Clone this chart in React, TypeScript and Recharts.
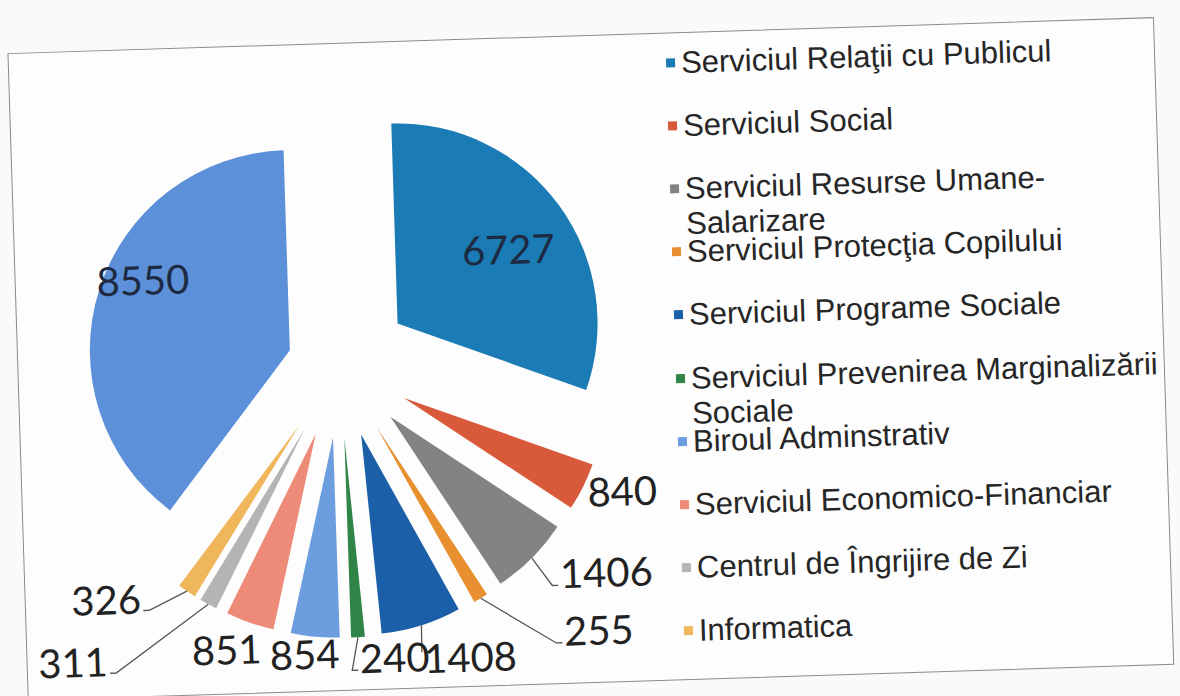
import React from 'react';
import { PieChart, Pie, Cell, Sector, Legend, Tooltip } from 'recharts';

const categories = [
  'Serviciul Relaţii cu Publicul',
  'Serviciul Social',
  'Serviciul Resurse Umane-Salarizare',
  'Serviciul Protecţia Copilului',
  'Serviciul Programe Sociale',
  'Serviciul Prevenirea Marginalizării Sociale',
  'Biroul Adminstrativ',
  'Serviciul Economico-Financiar',
  'Centrul de Îngrijire de Zi',
  'Informatica',
  '', // slice with no legend entry in the source
];

const values = [6727, 840, 1406, 255, 1408, 240, 854, 851, 311, 326, 8550];

const sliceColors = [
  '#1b7bb4',
  '#d85a3b',
  '#838383',
  '#e8902f',
  '#1b5fa8',
  '#2f8447',
  '#6b9ddf',
  '#ee8a78',
  '#b4b4b4',
  '#f0b65c',
  '#5c90d8',
];

// styling: how far each slice is pulled out, label placement, leader lines
const explode = [72, 72, 72, 72, 72, 72, 72, 72, 72, 72, 52];
const labelShift: [number, number][] = [
  [-52, 42], [39, 5], [74, 16], [117, 35], [48, 33], [36, 21],
  [-11, 17], [-24, 26], [-137, 54], [-81, 6], [44, -9],
];
const leaderSide = ['', '', 'left', 'left', 'leftTop', 'left', '', '', 'right', 'right', ''];
const insideLabel = [true, false, false, false, false, false, false, false, false, false, true];

const data = categories.map((name, i) => ({ id: i, name, value: values[i] }));

const W = 1180;
const H = 696;
const RAD = Math.PI / 180;
const DIGIT_W = 23.2;
const LEGEND_W = 510;
const LEGEND_FONT = '31px "Liberation Sans", Arial, sans-serif';

function unit(midAngle: number) {
  return [Math.cos(-midAngle * RAD), Math.sin(-midAngle * RAD)];
}

function ExplodedSector(props: any) {
  const { cx, cy, midAngle, innerRadius, outerRadius, startAngle, endAngle, fill } = props;
  const id = props.payload?.id ?? props.id ?? 0;
  const d = explode[id];
  const [ux, uy] = unit(midAngle);
  return (
    <Sector
      cx={cx + d * ux}
      cy={cy + d * uy}
      innerRadius={innerRadius}
      outerRadius={outerRadius}
      startAngle={startAngle}
      endAngle={endAngle}
      fill={fill}
      stroke="none"
    />
  );
}

function renderLabel(props: any) {
  const { cx, cy, midAngle, outerRadius, value, index } = props;
  const i = props.payload?.id ?? index;
  const [ux, uy] = unit(midAngle);
  const r = explode[i] + outerRadius;
  const ax = cx + r * ux;
  const ay = cy + r * uy;
  const x = ax + labelShift[i][0];
  const y = ay + labelShift[i][1];
  const half = (String(value).length * DIGIT_W) / 2;
  const side = leaderSide[i];
  let path = '';
  if (side === 'left') {
    const ex = x - half - 2;
    const ey = y + 12;
    path = `M${ax},${ay}L${ex - 6},${ey}L${ex},${ey}`;
  } else if (side === 'right') {
    const ex = x + half + 2;
    const ey = y + 12;
    path = `M${ax},${ay}L${ex + 6},${ey}L${ex},${ey}`;
  } else if (side === 'leftTop') {
    path = `M${ax},${ay}L${x - half - 2},${y - 6}`;
  }
  return (
    <g key={`lbl-${i}`}>
      {path && <path d={path} stroke="#555" strokeWidth={1.3} fill="none" />}
      <text
        x={x}
        y={y}
        textAnchor="middle"
        dominantBaseline="central"
        fontFamily="Lato, 'Open Sans', sans-serif"
        fontSize={40}
        fill={insideLabel[i] ? '#1d2a42' : '#222'}
      >
        {value}
      </text>
    </g>
  );
}

let ctx: CanvasRenderingContext2D | null = null;
function textWidth(s: string) {
  if (!ctx) ctx = document.createElement('canvas').getContext('2d');
  if (!ctx) return s.length * 15;
  ctx.font = LEGEND_FONT;
  return ctx.measureText(s).width;
}

function wrap(text: string, maxW: number) {
  const tokens = text.match(/[^\s-]+-?\s*/g) || [text];
  const lines: string[] = [];
  let cur = '';
  tokens.forEach((t) => {
    if (cur && textWidth((cur + t).trimEnd()) > maxW) {
      lines.push(cur.trimEnd());
      cur = t;
    } else {
      cur += t;
    }
  });
  if (cur) lines.push(cur.trimEnd());
  return lines;
}

function renderLegend(props: any) {
  // keep the data order, skip the slice that has no legend entry
  const items = (props.payload || [])
    .filter((p: any) => p.value)
    .sort((a: any, b: any) => categories.indexOf(a.value) - categories.indexOf(b.value));
  return (
    <div
      style={{
        position: 'relative',
        width: LEGEND_W,
        height: H,
        font: LEGEND_FONT,
        color: '#262626',
      }}
    >
      {items.map((p: any, k: number) => {
        const lines = wrap(String(p.value), 482);
        return (
          <div
            key={k}
            style={{ position: 'absolute', left: 0, top: 65 + 63.2 * k - 17.5, lineHeight: '35px' }}
          >
            <span
              style={{
                position: 'absolute',
                left: 5,
                top: 13,
                width: 9,
                height: 9,
                background: p.color,
              }}
            />
            <div style={{ marginLeft: 20, whiteSpace: 'pre' }}>{lines.join('\n')}</div>
          </div>
        );
      })}
    </div>
  );
}

export default function App() {
  return (
    <div
      style={{
        position: 'absolute',
        left: 0,
        top: 0,
        width: W,
        height: H,
        background: '#fafafa',
        overflow: 'hidden',
      }}
    >
      <div
        style={{
          position: 'absolute',
          left: 0,
          top: 0,
          width: W,
          height: H,
          transform: 'rotate(-1.8deg)',
          transformOrigin: '590px 348px',
        }}
      >
        <div
          style={{
            position: 'absolute',
            left: 17,
            top: 35,
            width: 1145,
            height: 646,
            border: '1.5px solid #8a8a8a',
            background: '#fdfdfd',
          }}
        />
        <div style={{ position: 'absolute', left: 0, top: 0 }}>
          <PieChart width={W} height={H} margin={{ top: 0, right: 0, bottom: 0, left: 0 }}>
            <Pie
              data={data}
              dataKey="value"
              nameKey="name"
              cx={339}
              cy={358}
              outerRadius={200}
              startAngle={90}
              endAngle={-270}
              stroke="none"
              labelLine={false}
              label={renderLabel}
              shape={ExplodedSector}
              activeShape={ExplodedSector}
              inactiveShape={ExplodedSector}
              isAnimationActive={false}
            >
              {data.map((d) => (
                <Cell key={d.id} fill={sliceColors[d.id]} />
              ))}
            </Pie>
            <Tooltip defaultIndex={0} content={() => null} cursor={false} />
            <Legend
              layout="vertical"
              align="right"
              verticalAlign="top"
              itemSorter={null as any}
              content={renderLegend}
            />
          </PieChart>
        </div>
      </div>
    </div>
  );
}
